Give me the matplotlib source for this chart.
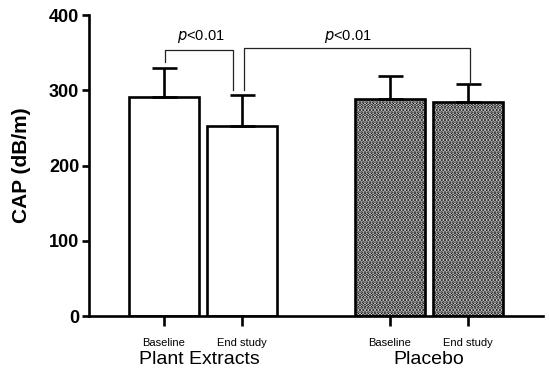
import matplotlib
matplotlib.use("Agg")
import matplotlib.pyplot as plt
import matplotlib.transforms as mtransforms

plt.rcParams['font.family'] = ['Liberation Sans', 'DejaVu Sans']
plt.rcParams['hatch.linewidth'] = 1.9

# ---- data ----
tick_labels = ["Baseline", "End study", "Baseline", "End study"]
groups = ["Plant Extracts", "Placebo"]
means = [291, 253, 288, 284]
sds = [39, 41, 31, 25]
positions = [0.0, 1.0, 2.9, 3.9]
hatches = [None, None, '.....', '.....']
p_texts = ["<0.01", "<0.01"]
# bracket: (bar i, bar j, top value, left-leg bottom, right-leg bottom)
brackets = [(0, 1, 353, 338, 300), (1, 3, 356, 300, 311)]

fig = plt.figure(figsize=(5.5, 3.77), dpi=100)
ax = fig.add_axes([0.1618, 0.1618, 0.987 - 0.1618, 0.960 - 0.1618])

lw = 1.9
for x, m, s, h in zip(positions, means, sds, hatches):
    ax.bar(x, m, width=0.9, color='white', edgecolor='black', linewidth=lw,
           hatch=h, zorder=2)
    ax.errorbar(x, m, yerr=[[0], [s]], fmt='none', ecolor='black',
                elinewidth=lw, capsize=9, capthick=lw, zorder=3)

# brackets
offsets = [(0.01, -0.115), (0.03, 0.03)]
for (i, j, top, lb, rb), (ol, orr), pt in zip(brackets, offsets, p_texts):
    xl = positions[i] + ol
    xr = positions[j] + orr
    ax.plot([xl, xl, xr, xr], [lb, top, top, rb], color='#222222',
            linewidth=0.9, clip_on=False, zorder=4)

ax.text(0.47, 372, r"$\it{p}$" + p_texts[0], ha='center', va='center', fontsize=10.5)
ax.text(2.36, 371, r"$\it{p}$" + p_texts[1], ha='center', va='center', fontsize=10.5)

ax.set_xlim(-0.96, 4.86)
ax.set_ylim(0, 400)
ax.set_yticks([0, 100, 200, 300, 400])
ax.set_xticks(positions)
ax.set_xticklabels(tick_labels, fontsize=8)
for lab in ax.get_yticklabels():
    lab.set_fontweight('bold')
    lab.set_fontsize(13)

ax.tick_params(axis='y', length=5, width=lw, pad=2)
ax.tick_params(axis='x', length=7, width=lw, pad=9)
for side in ['top', 'right']:
    ax.spines[side].set_visible(False)
for side in ['left', 'bottom']:
    ax.spines[side].set_linewidth(lw)

ax.set_ylabel("CAP (dB/m)", fontsize=15, fontweight='bold')
ax.yaxis.set_label_coords(-0.128, 0.5)

trans = mtransforms.blended_transform_factory(ax.transData, ax.transAxes)
ax.text((positions[0] + positions[1]) / 2 - 0.05, -0.143, groups[0],
        transform=trans, ha='center', va='center', fontsize=14)
ax.text((positions[2] + positions[3]) / 2, -0.143, groups[1],
        transform=trans, ha='center', va='center', fontsize=14)

fig.savefig("out.png", dpi=100)
